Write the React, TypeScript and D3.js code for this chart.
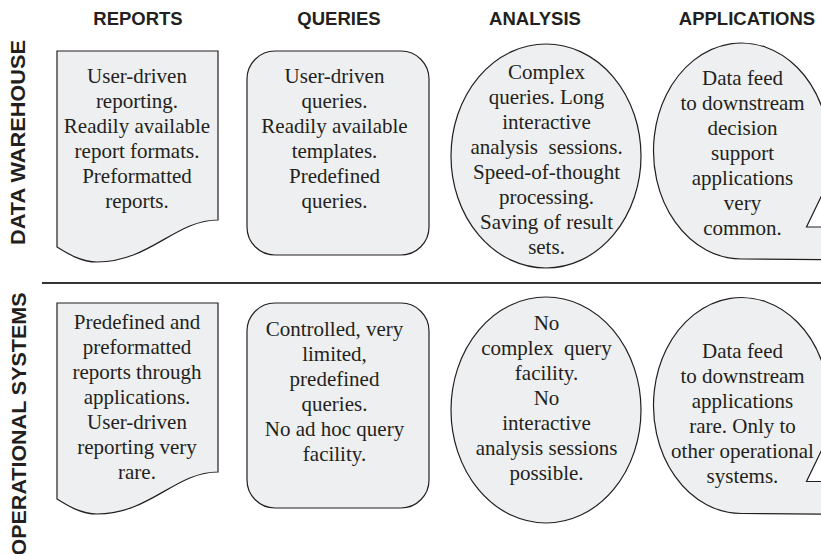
import React from 'react';
import * as d3 from 'd3';

const columns = ['REPORTS', 'QUERIES', 'ANALYSIS', 'APPLICATIONS'];
const rows = ['DATA WAREHOUSE', 'OPERATIONAL SYSTEMS'];

const warehouseTexts = [
  ['User-driven', 'reporting.', 'Readily available', 'report formats.', 'Preformatted', 'reports.'],
  ['User-driven', 'queries.', 'Readily available', 'templates.', 'Predefined', 'queries.'],
  ['Complex', 'queries. Long', 'interactive', 'analysis  sessions.', 'Speed-of-thought', 'processing.', 'Saving of result', 'sets.'],
  ['Data feed', 'to downstream', 'decision', 'support', 'applications', 'very', 'common.'],
];

const operationalTexts = [
  ['Predefined and', 'preformatted', 'reports through', 'applications.', 'User-driven', 'reporting very', 'rare.'],
  ['Controlled, very', 'limited,', 'predefined', 'queries.', 'No ad hoc query', 'facility.'],
  ['No', 'complex  query', 'facility.', 'No', 'interactive', 'analysis sessions', 'possible.'],
  ['Data feed', 'to downstream', 'applications', 'rare. Only to', 'other operational', 'systems.'],
];

const cellTexts = [warehouseTexts, operationalTexts];

// layout
const W = 821;
const H = 554;
const LINE_H = 25;
const FILL = '#eeeff0';
const INK = '#231f20';
const SANS = "'Liberation Sans', Arial, sans-serif";
const SERIF = "'Liberation Serif', 'Times New Roman', serif";

const headerX = d3.scaleOrdinal<string, number>().domain(columns).range([138, 339, 535, 747]);
const shapeX = d3.scaleOrdinal<string, number>().domain(columns).range([137.5, 338, 546, 741.5]);
const textX = d3.scaleOrdinal<string, number>().domain(columns).range([137, 334.5, 546.5, 742.5]);
const rowTop = d3.scaleOrdinal<string, number>().domain(rows).range([51, 303]);
const ovalMid = d3.scaleOrdinal<string, number>().domain(rows).range([156, 410]);
const bubbleMid = d3.scaleOrdinal<string, number>().domain(rows).range([151, 405.5]);
const rowLabel = d3.scaleOrdinal<string, { mid: number; len: number; x: number }>()
  .domain(rows)
  .range([{ mid: 142.5, len: 205, x: 25 }, { mid: 424, len: 263, x: 26 }]);
// baseline midpoint of each text block
const textMid = [
  [145.5, 145.5, 166, 160],
  [404, 398.5, 405, 420],
];

function docPath(cx: number, top: number) {
  const l = cx - 80.5, r = cx + 80.5;
  const p = d3.path();
  p.moveTo(l, top);
  p.lineTo(r, top);
  p.lineTo(r, top + 169);
  p.bezierCurveTo(r - 43, top + 169, r - 68, top + 211, l + 40, top + 211);
  p.bezierCurveTo(l + 23, top + 211, l + 8, top + 201, l, top + 196);
  p.closePath();
  return p.toString();
}

function bubblePath(cx: number, cy: number) {
  const rx = 88, ry = 108;
  const ang = Math.asin(44 / ry);
  const px = cx + rx * Math.cos(ang);
  const py = cy + 44;
  return `M${cx},${cy + ry} A${rx},${ry} 0 1 1 ${px},${py} L${cx + 65},${cy + 76} L${cx + 120},${cy + 76} L${cx + 120},${cy + ry + 1} Z`;
}

function Shape({ col, row }: { col: string; row: string }) {
  const cx = shapeX(col);
  const top = rowTop(row);
  const common = { fill: FILL, stroke: INK, strokeWidth: 1.2 };
  if (col === 'REPORTS') return <path d={docPath(cx, top)} {...common} />;
  if (col === 'QUERIES')
    return <rect x={cx - 91} y={top} width={182} height={row === rows[0] ? 204 : 205} rx={28} ry={28} {...common} />;
  if (col === 'ANALYSIS')
    return <ellipse cx={cx} cy={ovalMid(row)} rx={95} ry={row === rows[0] ? 112 : 113} {...common} />;
  return <path d={bubblePath(cx, bubbleMid(row))} {...common} />;
}

export default function App() {
  return (
    <svg width={W} height={H} style={{ position: 'absolute', left: 0, top: 0, background: '#fff' }}>
      {columns.map(c => (
        <text key={c} x={headerX(c)} y={25} textAnchor="middle" fontFamily={SANS}
          fontWeight="bold" fontSize={18.5} fill={INK}>{c}</text>
      ))}
      {rows.map(r => {
        const lab = rowLabel(r);
        return (
          <text key={r} transform={`translate(${lab.x},${lab.mid}) rotate(-90)`} textAnchor="middle"
            fontFamily={SANS} fontWeight="bold" fontSize={20.5} fill={INK}
            textLength={lab.len} lengthAdjust="spacingAndGlyphs">{r}</text>
        );
      })}
      <line x1={42} x2={W} y1={283} y2={283} stroke="#333" strokeWidth={2} />
      {rows.map((r, ri) => columns.map((c, ci) => {
        const lines = cellTexts[ri][ci];
        const y0 = textMid[ri][ci] - ((lines.length - 1) * LINE_H) / 2;
        return (
          <g key={r + c}>
            <Shape col={c} row={r} />
            <text x={textX(c)} textAnchor="middle" fontFamily={SERIF}
              fontSize={21} fill={INK} style={{ whiteSpace: 'pre' }}>
              {lines.map((t, i) => (
                <tspan key={i} x={textX(c)} y={y0 + i * LINE_H}>{t}</tspan>
              ))}
            </text>
          </g>
        );
      }))}
    </svg>
  );
}
